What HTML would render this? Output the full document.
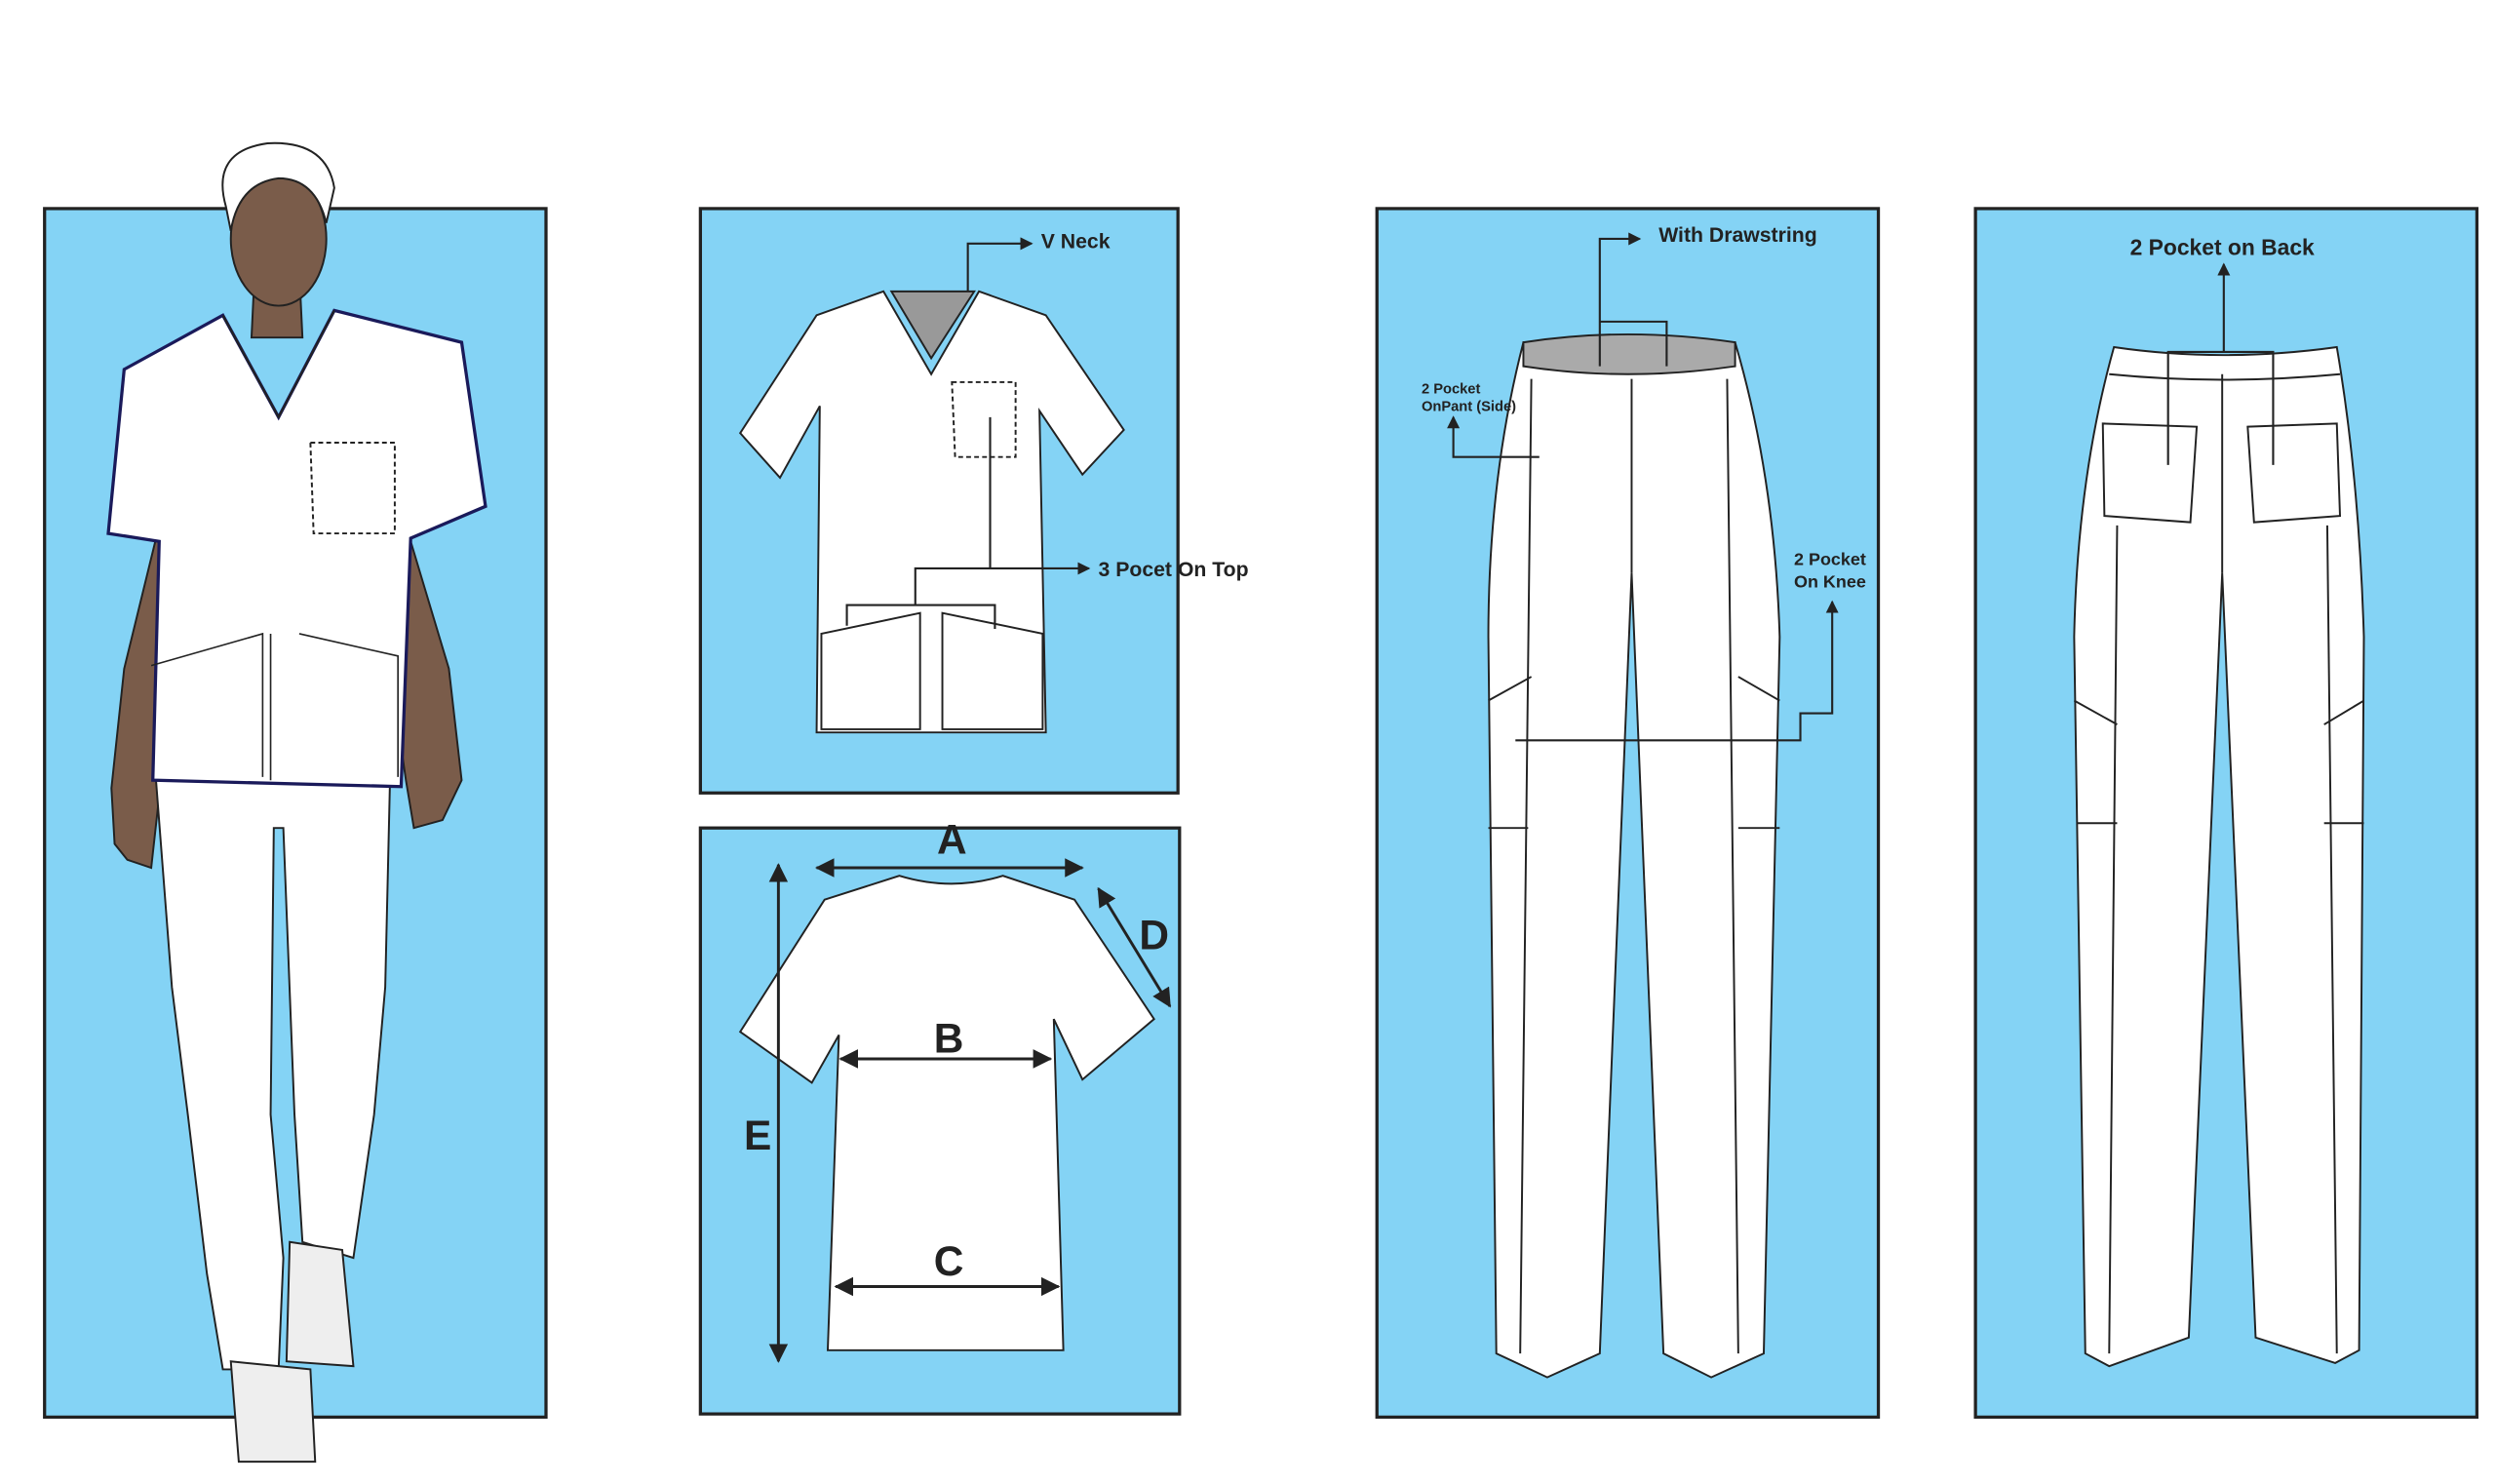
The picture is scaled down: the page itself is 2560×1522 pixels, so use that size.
<!DOCTYPE html>
<html><head><meta charset="utf-8"><style>
html,body{margin:0;padding:0;background:#fff;width:2560px;height:1522px;overflow:hidden}
svg{display:block}
text{font-family:"Liberation Sans",sans-serif;font-weight:bold;fill:#222}
</style></head><body>
<svg width="2560" height="1522" viewBox="0 0 1568 932" preserveAspectRatio="none">
<defs>
<marker id="ar" markerWidth="8" markerHeight="8" refX="7" refY="4" orient="auto" markerUnits="userSpaceOnUse"><path d="M0,0 L8,4 L0,8z" fill="#222"/></marker>
<marker id="ar2" markerWidth="12" markerHeight="12" refX="11" refY="6" orient="auto-start-reverse" markerUnits="userSpaceOnUse"><path d="M0,0 L12,6 L0,12z" fill="#222"/></marker>
</defs>
<g stroke="#222" stroke-width="2" fill="#84d3f5">
<rect x="28" y="131" width="315" height="759"/>
<rect x="440" y="131" width="300" height="367"/>
<rect x="440" y="520" width="301" height="368"/>
<rect x="865" y="131" width="315" height="759"/>
<rect x="1241" y="131" width="315" height="759"/>
</g>
<!-- Figure -->
<g stroke="#222" stroke-width="1.2">
<path d="M100,330 L78,420 L70,495 L72,530 L80,540 L95,545 L100,500 L112,420 Z" fill="#7a5c4a"/>
<path d="M255,330 L282,420 L290,490 L278,515 L260,520 L255,490 L245,420 Z" fill="#7a5c4a"/>
<path d="M160,170 L158,212 L190,212 L188,170 Z" fill="#7a5c4a"/>
<ellipse cx="175" cy="150" rx="30" ry="42" fill="#7a5c4a"/>
<path d="M142,130 Q132,95 168,90 Q205,88 210,118 L205,140 Q198,112 175,112 Q150,115 145,145 Z" fill="#fff"/>
<path d="M98,490 L108,620 L118,700 L130,800 L140,860 L175,860 L178,790 L170,700 L172,520 L178,520 L185,700 L190,780 L222,790 L235,700 L242,620 L245,490 Z" fill="#fff"/>
<path d="M145,855 L150,918 L198,918 L195,860 Z" fill="#eee"/>
<path d="M182,780 L180,855 L222,858 L215,785 Z" fill="#eee"/>
<path d="M140,198 L78,232 L68,335 L100,340 L96,490 L252,494 L258,338 L305,318 L290,215 L210,195 L175,262 Z" fill="#fff" stroke="#1a1a5a" stroke-width="2"/>
<path d="M140,198 L175,262 L210,195" fill="none" stroke="#222"/>
<path d="M195,278 L248,278 L248,335 L197,335 Z" fill="none" stroke-dasharray="3,2"/>
<path d="M95,418 L165,398 L165,488 M188,398 L250,412 L250,488" fill="none" stroke-width="1"/>
<path d="M170,398 L170,490" fill="none" stroke-width="1"/>
</g>
<!-- Panel 2 shirt -->
<g stroke="#222" stroke-width="1.2" fill="#fff">
<path d="M555,183 L513,198 L465,272 L490,300 L515,255 L513,460 L657,460 L653,258 L680,298 L706,270 L657,198 L615,183 L585,235 Z"/>
<path d="M560,183 L612,183 L585,225 Z" fill="#999"/>
<path d="M598,240 L638,240 L638,287 L600,287 Z" fill="none" stroke-dasharray="3,2"/>
<path d="M516,398 L578,385 L578,458 L516,458 Z M592,385 L655,398 L655,458 L592,458 Z" fill="none"/>
</g>
<g stroke="#222" stroke-width="1.3" fill="none">
<path d="M608,183 L608,153 L648,153" marker-end="url(#ar)"/>
<path d="M622,262 L622,357 L575,357 L575,380 M622,357 L684,357" marker-end="url(#ar)"/>
<path d="M532,393 L532,380 L625,380 L625,395"/>
</g>
<text x="654" y="156" font-size="13">V Neck</text>
<text x="690" y="362" font-size="13">3 Pocet On Top</text>
<!-- Panel 3 shirt back -->
<g stroke="#222" stroke-width="1.2" fill="#fff">
<path d="M565,550 Q598,560 630,550 L675,565 L725,640 L680,678 L662,640 L668,848 L520,848 L527,650 L510,680 L465,648 L518,565 Z"/>
</g>
<g stroke="#222" stroke-width="1.8" fill="none">
<line x1="513" y1="545" x2="680" y2="545" marker-start="url(#ar2)" marker-end="url(#ar2)"/>
<line x1="528" y1="665" x2="660" y2="665" marker-start="url(#ar2)" marker-end="url(#ar2)"/>
<line x1="525" y1="808" x2="665" y2="808" marker-start="url(#ar2)" marker-end="url(#ar2)"/>
<line x1="690" y1="558" x2="735" y2="632" marker-start="url(#ar2)" marker-end="url(#ar2)"/>
<line x1="489" y1="543" x2="489" y2="855" marker-start="url(#ar2)" marker-end="url(#ar2)"/>
</g>
<text x="598" y="536" font-size="26" text-anchor="middle">A</text>
<text x="596" y="661" font-size="26" text-anchor="middle">B</text>
<text x="596" y="801" font-size="26" text-anchor="middle">C</text>
<text x="725" y="596" font-size="26" text-anchor="middle">D</text>
<text x="476" y="722" font-size="26" text-anchor="middle">E</text>
<!-- Panel 4 front pants -->
<g stroke="#222" stroke-width="1.2" fill="#fff">
<path d="M957,215 Q935,300 935,400 L940,850 L972,865 L1005,850 L1025,360 L1045,850 L1075,865 L1108,850 L1118,400 Q1115,300 1090,215 Q1025,235 957,215 Z"/>
<path d="M957,215 Q1022,205 1090,215 L1090,230 Q1022,240 957,230 Z" fill="#aaa"/>
<path d="M962,238 L955,850 M1085,238 L1092,850 M1025,238 L1025,360" fill="none"/>
<path d="M935,440 L962,425 M1118,440 L1092,425 M935,520 L960,520 M1092,520 L1118,520" fill="none"/>
</g>
<g stroke="#222" stroke-width="1.3" fill="none">
<path d="M1005,230 L1005,150 L1030,150" marker-end="url(#ar)"/>
<path d="M1005,202 L1047,202 L1047,230"/>
<path d="M967,287 L913,287 L913,262" marker-end="url(#ar)"/>
<path d="M952,465 L1131,465 L1131,448 L1151,448 L1151,378" marker-end="url(#ar)"/>
</g>
<text x="1042" y="152" font-size="13">With Drawstring</text>
<text x="893" y="247" font-size="9">2 Pocket</text>
<text x="893" y="258" font-size="9">OnPant (Side)</text>
<text x="1127" y="355" font-size="11">2 Pocket</text>
<text x="1127" y="369" font-size="11">On Knee</text>
<!-- Panel 5 back pants -->
<g stroke="#222" stroke-width="1.2" fill="#fff">
<path d="M1328,218 Q1305,300 1303,400 L1310,850 L1325,858 L1375,840 L1396,360 L1417,840 L1467,856 L1482,848 L1485,400 Q1482,300 1468,218 Q1396,228 1328,218 Z"/>
<path d="M1321,266 L1380,268 L1376,328 L1322,324 Z M1412,268 L1468,266 L1470,324 L1416,328 Z"/>
<path d="M1325,235 Q1396,242 1470,235 M1396,235 L1396,360 M1330,330 L1325,850 M1462,330 L1468,850" fill="none"/>
<path d="M1303,440 L1330,455 M1485,440 L1460,455 M1305,517 L1330,517 M1460,517 L1485,517" fill="none"/>
</g>
<g stroke="#222" stroke-width="1.3" fill="none">
<path d="M1362,292 L1362,221 L1428,221 L1428,292 M1397,221 L1397,166" marker-end="url(#ar)"/>
</g>
<text x="1396" y="160" font-size="14" text-anchor="middle">2 Pocket on Back</text>
</svg>
</body></html>
